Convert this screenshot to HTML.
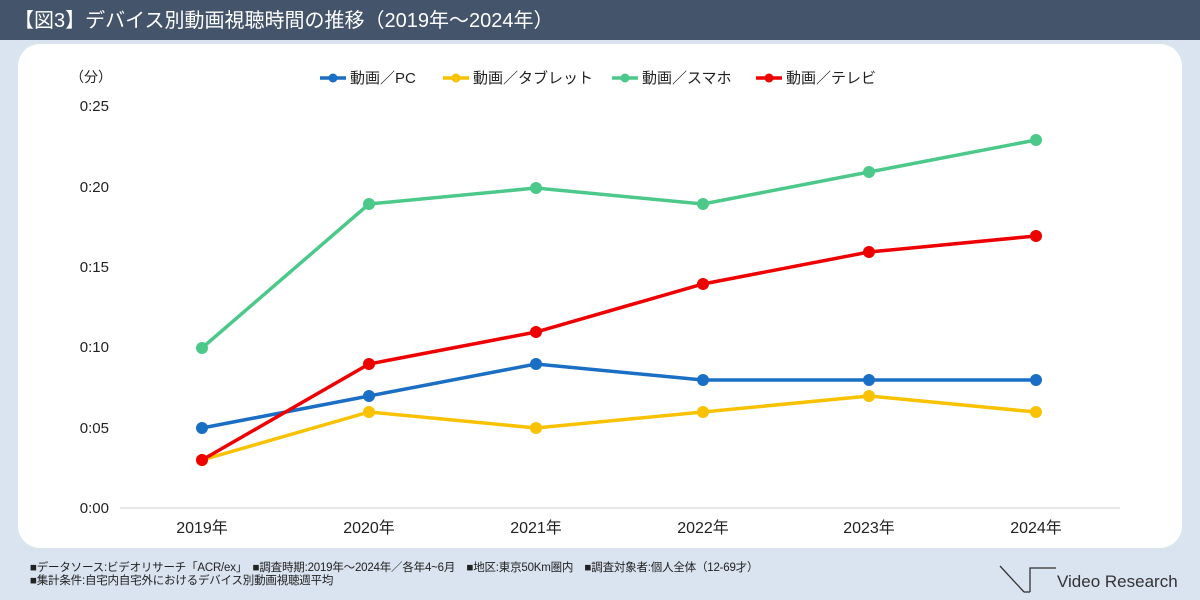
<!DOCTYPE html>
<html><head><meta charset="utf-8"><style>
body{margin:0;width:1200px;height:600px;background:#dae3f0;overflow:hidden;font-family:"Liberation Sans","Noto Sans CJK JP",sans-serif;position:relative}
.hd{position:absolute;left:0;top:0;width:1200px;height:40px;background:#44546a;color:#fff;font-size:20px;line-height:42px;text-indent:14px}
.pn{position:absolute;left:18px;top:44px;width:1164px;height:504px;background:#fff;border-radius:22px}
.ft{position:absolute;left:30px;top:562px;font-size:11.5px;line-height:13px;color:#222;letter-spacing:-0.2px}
</style></head><body>
<div class="hd">【図3】デバイス別動画視聴時間の推移（2019年～2024年）</div>
<div class="pn"></div>
<svg width="1200" height="600" style="position:absolute;left:0;top:0" font-family="Liberation Sans, Noto Sans CJK JP, sans-serif">
<g font-size="15" fill="#222">
<text x="70" y="82" font-size="14">（分）</text>
<g text-anchor="end">
<text x="109" y="513">0:00</text><text x="109" y="433">0:05</text><text x="109" y="352">0:10</text><text x="109" y="272">0:15</text><text x="109" y="192">0:20</text><text x="109" y="111">0:25</text>
</g>
<g text-anchor="middle" font-size="16">
<text x="202" y="533">2019年</text><text x="369" y="533">2020年</text><text x="536" y="533">2021年</text><text x="703" y="533">2022年</text><text x="869" y="533">2023年</text><text x="1036" y="533">2024年</text>
</g>
</g>
<line x1="120" y1="508" x2="1120" y2="508" stroke="#d0d0d0"/>
<g stroke-width="3.5" fill="none">
<polyline stroke="#1a6fc4" points="202,428 369,396 536,364 703,380 869,380 1036,380"/>
<polyline stroke="#f8c200" points="202,460 369,412 536,428 703,412 869,396 1036,412"/>
<polyline stroke="#4cc98a" points="202,348 369,204 536,188 703,204 869,172 1036,140"/>
<polyline stroke="#ee0000" points="202,460 369,364 536,332 703,284 869,252 1036,236"/>
</g>
<g fill="#1a6fc4"><circle cx="202" cy="428" r="6"/><circle cx="369" cy="396" r="6"/><circle cx="536" cy="364" r="6"/><circle cx="703" cy="380" r="6"/><circle cx="869" cy="380" r="6"/><circle cx="1036" cy="380" r="6"/></g>
<g fill="#f8c200"><circle cx="202" cy="460" r="6"/><circle cx="369" cy="412" r="6"/><circle cx="536" cy="428" r="6"/><circle cx="703" cy="412" r="6"/><circle cx="869" cy="396" r="6"/><circle cx="1036" cy="412" r="6"/></g>
<g fill="#4cc98a"><circle cx="202" cy="348" r="6"/><circle cx="369" cy="204" r="6"/><circle cx="536" cy="188" r="6"/><circle cx="703" cy="204" r="6"/><circle cx="869" cy="172" r="6"/><circle cx="1036" cy="140" r="6"/></g>
<g fill="#ee0000"><circle cx="202" cy="460" r="6"/><circle cx="369" cy="364" r="6"/><circle cx="536" cy="332" r="6"/><circle cx="703" cy="284" r="6"/><circle cx="869" cy="252" r="6"/><circle cx="1036" cy="236" r="6"/></g>
<g font-size="15" fill="#222">
<line x1="320" y1="78" x2="346" y2="78" stroke="#1a6fc4" stroke-width="3.5"/><circle cx="333" cy="78" r="4.5" fill="#1a6fc4"/><text x="350" y="83">動画／PC</text>
<line x1="443" y1="78" x2="469" y2="78" stroke="#f8c200" stroke-width="3.5"/><circle cx="456" cy="78" r="4.5" fill="#f8c200"/><text x="473" y="83">動画／タブレット</text>
<line x1="612" y1="78" x2="638" y2="78" stroke="#4cc98a" stroke-width="3.5"/><circle cx="625" cy="78" r="4.5" fill="#4cc98a"/><text x="642" y="83">動画／スマホ</text>
<line x1="756" y1="78" x2="782" y2="78" stroke="#ee0000" stroke-width="3.5"/><circle cx="769" cy="78" r="4.5" fill="#ee0000"/><text x="786" y="83">動画／テレビ</text>
</g>
<g stroke="#333" stroke-width="1.3" fill="none">
<polyline points="1000,566 1024,592"/><polyline points="1030,592 1030,568 1056,568"/><polyline points="1024,592 1030,592"/>
</g>
<text x="1057" y="587" font-size="17" fill="#333">Video Research</text>
</svg>
<div class="ft">■データソース:ビデオリサーチ「ACR/ex」　■調査時期:2019年～2024年／各年4~6月　■地区:東京50Km圏内　■調査対象者:個人全体（12-69才）<br>■集計条件:自宅内自宅外におけるデバイス別動画視聴週平均</div>
</body></html>
